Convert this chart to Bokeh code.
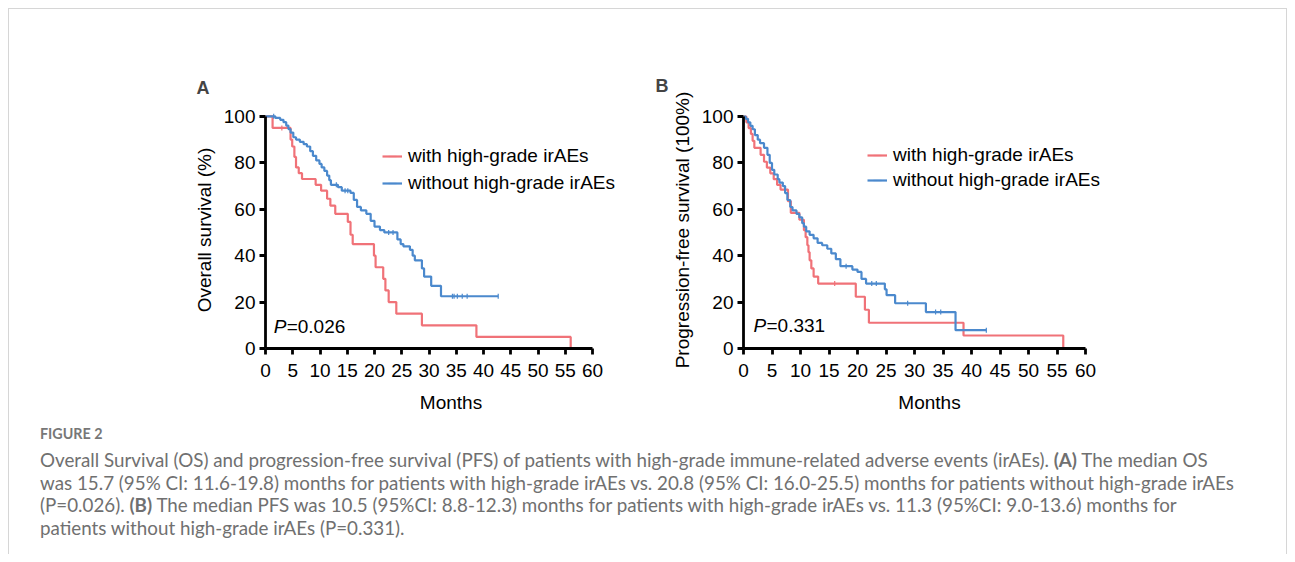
import math
from bokeh.plotting import figure
from bokeh.models import Legend, LegendItem, Div
from bokeh.layouts import row, column
from bokeh.core.properties import value
from bokeh.embed import file_html
from bokeh.resources import INLINE

# ---------------- data ----------------
x_ticks = [0, 5, 10, 15, 20, 25, 30, 35, 40, 45, 50, 55, 60]
y_ticks = [0, 20, 40, 60, 80, 100]

label_with = "with high-grade irAEs"
label_without = "without high-grade irAEs"

# Panel A: overall survival
os_with_t = [0, 1.3, 4.6, 4.9, 5.3, 5.6, 6.1, 6.7, 9.2, 10.2, 11.3, 11.9, 12.8, 15.1, 15.6,
             16.0, 19.9, 20.2, 21.6, 22.0, 22.6, 24.0, 28.7, 38.7, 56.0]
os_with_s = [100, 95, 90, 87, 82.5, 78, 75.5, 73, 70.5, 68, 64.5, 61.5, 58, 54.5, 49,
             45, 40, 35, 30, 25, 20, 15, 10, 5, 0]
os_with_cens_t = [3.0]
os_with_cens_s = [95]

os_without_t = [0, 1.8, 2.7, 3.3, 3.8, 4.2, 4.6, 5.1, 5.6, 6.3, 7.0, 7.6, 8.2, 8.7, 9.3, 9.9,
                10.3, 10.8, 11.3, 11.7, 12.0, 13.3, 14.0, 15.6, 16.2, 16.8, 17.5, 18.5, 19.3,
                20.0, 21.0, 21.8, 24.2, 24.8, 25.3, 26.5, 27.0, 27.4, 28.7, 29.1, 30.4, 32.2, 42.7]
os_without_s = [100, 99.3, 98.5, 97.5, 96, 94.5, 93, 91, 90, 89, 88, 87, 85, 83, 81, 79.5,
                78, 76.5, 74.5, 72.5, 70.5, 69.5, 68, 67, 64, 61, 59.5, 58, 55,
                52.5, 51, 50, 47, 45, 44, 42.5, 40, 38, 34.5, 31, 27, 22.5, 22.5]
os_without_cens_t = [1.5, 13.0, 14.6, 15.1, 22.6, 23.4, 34.3, 34.6, 35.2, 36.1, 37.0, 42.7]
os_without_cens_s = [100, 70.5, 68, 68, 50, 50, 22.5, 22.5, 22.5, 22.5, 22.5, 22.5]

# Panel B: progression-free survival
pfs_with_t = [0, 0.5, 0.9, 1.3, 1.6, 1.9, 3.0, 3.6, 4.1, 4.7, 5.3, 5.9, 6.5, 7.8, 8.3, 9.8,
              10.6, 10.9, 11.2, 11.4, 11.6, 11.9, 12.3, 13.1, 19.7, 21.3, 22.0, 38.6, 56.1]
pfs_with_s = [100, 97.5, 95, 92.5, 89.5, 86.5, 83.5, 80.5, 78, 75.5, 73, 70.5, 68.5, 63.5, 58.5, 55.5,
              51, 48, 44.5, 41.5, 38, 34.5, 31, 28, 22.3, 16.7, 11.1, 5.6, 0]
pfs_with_cens_t = [16.0]
pfs_with_cens_s = [28]

pfs_without_t = [0, 0.4, 0.8, 1.2, 1.6, 2.0, 2.5, 2.9, 3.6, 4.2, 4.6, 5.0, 5.4, 6.0, 6.3, 6.9,
                 7.3, 7.7, 8.2, 8.6, 9.3, 9.8, 10.3, 10.6, 11.0, 11.6, 12.3, 13.0, 13.8, 14.7,
                 15.4, 16.2, 17.0, 19.1, 20.0, 20.7, 21.5, 24.8, 25.1, 26.6, 32.0, 37.2, 42.6]
pfs_without_s = [100, 99, 97.5, 96, 94.5, 92, 90, 88.5, 86.5, 83.5, 80, 77, 75, 73, 71.5, 70,
                 67, 64, 61, 59.5, 58, 56.5, 54, 52.5, 50.5, 49, 47.5, 45.5, 44.5, 43,
                 41, 38.5, 35.5, 34, 33, 30, 28, 25.5, 23, 19.5, 15.7, 7.9, 7.9]
pfs_without_cens_t = [18.0, 22.5, 23.3, 28.8, 33.7, 34.6, 42.6]
pfs_without_cens_s = [35.5, 28, 28, 19.5, 15.7, 15.7, 7.9]

p_value_A = ("P", "=0.026", 1.5, 9.6)
p_value_B = ("P", "=0.331", 1.75, 10.0)

caption_title = "FIGURE 2"
caption_lines = [
    "Overall Survival (OS) and progression-free survival (PFS) of patients with high-grade immune-related adverse events (irAEs). <b>(A)</b> The median OS",
    "was 15.7 (95% CI: 11.6-19.8) months for patients with high-grade irAEs vs. 20.8 (95% CI: 16.0-25.5) months for patients without high-grade irAEs",
    "(P=0.026). <b>(B)</b> The median PFS was 10.5 (95%CI: 8.8-12.3) months for patients with high-grade irAEs vs. 11.3 (95%CI: 9.0-13.6) months for",
    "patients without high-grade irAEs (P=0.331).",
]

RED = "#F07278"
BLUE = "#4B89CD"
FONT = "Liberation Sans"


def km_panel(letter, ylabel, width, height, left, right, top, bottom, x_end, y_end,
             with_t, with_s, with_ct, with_cs, wo_t, wo_s, wo_ct, wo_cs,
             pval, legend_loc, legend_spacing, title_offset, title_standoff):
    p = figure(width=width, height=height, x_range=(0, x_end), y_range=(0, y_end),
               min_border_left=left, min_border_right=right,
               min_border_top=top, min_border_bottom=bottom,
               toolbar_location=None, output_backend="svg", title=letter)
    p.title.text_font = FONT
    p.title.text_font_size = "18px"
    p.title.text_font_style = "bold"
    p.title.align = "left"
    p.title.offset = title_offset
    p.title.standoff = title_standoff
    p.outline_line_color = None
    p.grid.visible = False
    p.background_fill_color = "white"
    p.border_fill_color = "white"

    for ax in (p.xaxis[0], p.yaxis[0]):
        ax.axis_line_width = 2.8
        ax.axis_line_color = "black"
        ax.major_tick_line_width = 2.8
        ax.major_tick_line_color = "black"
        ax.major_tick_out = 6
        ax.major_tick_in = 0
        ax.minor_tick_line_color = None
        ax.major_label_text_font = FONT
        ax.major_label_text_font_size = "19px"
        ax.major_label_text_color = "black"
        ax.axis_label_text_font = FONT
        ax.axis_label_text_font_size = "19px"
        ax.axis_label_text_font_style = "normal"
        ax.axis_label_text_color = "black"
    p.xaxis.ticker = x_ticks
    p.yaxis.ticker = y_ticks
    p.xaxis.bounds = (0, 60)
    p.yaxis.bounds = (0, 100)
    p.xaxis.axis_label = "Months"
    p.yaxis.axis_label = ylabel
    p.xaxis.major_label_standoff = 9
    p.xaxis.axis_label_standoff = 12
    p.yaxis.major_label_standoff = 4
    p.yaxis.axis_label_standoff = 6

    r1 = p.step(with_t, with_s, mode="after", line_color=RED, line_width=2.2)
    c1 = p.scatter(with_ct, with_cs, marker="dash", angle=math.pi / 2, size=5,
                   line_color=RED, line_width=1.2)
    r2 = p.step(wo_t, wo_s, mode="after", line_color=BLUE, line_width=2.2)
    c2 = p.scatter(wo_ct, wo_cs, marker="dash", angle=math.pi / 2, size=5,
                   line_color=BLUE, line_width=1.2)

    p.text(x=[pval[2]], y=[pval[3]], text=[pval[0]], text_font=value(FONT),
           text_font_size="19px", text_font_style="italic", text_baseline="middle",
           text_color="black")
    p.text(x=[pval[2]], y=[pval[3]], text=[pval[1]], text_font=value(FONT),
           text_font_size="19px", text_baseline="middle", text_color="black",
           x_offset=13)

    legend = Legend(items=[LegendItem(label=label_with, renderers=[r1, c1]),
                           LegendItem(label=label_without, renderers=[r2, c2])],
                    location=legend_loc, border_line_color=None,
                    background_fill_alpha=0, padding=0, margin=0,
                    spacing=legend_spacing, glyph_width=20, glyph_height=20,
                    label_standoff=6, label_text_font=FONT,
                    label_text_font_size="19px", label_text_color="black")
    p.add_layout(legend)
    return p


# Panel A frame: 60 months = 327 px, 100 % = 240 px
pA = km_panel("A", "Overall survival (%)", 631, 410, 256, 4, 94, 71,
              60 * 371 / 327, 100 * 245 / 240,
              os_with_t, os_with_s, os_with_cens_t, os_with_cens_s,
              os_without_t, os_without_s, os_without_cens_t, os_without_cens_s,
              p_value_A, (117, 154), 5, -69, 27)
# Panel B frame: 60 months = 342 px, 100 % = 232 px
pB = km_panel("B", "Progression-free survival (100%)", 646, 410, 103, 171, 102, 71,
              60 * 372 / 342, 100 * 237 / 232,
              pfs_with_t, pfs_with_s, pfs_with_cens_t, pfs_with_cens_s,
              pfs_without_t, pfs_without_s, pfs_without_cens_t, pfs_without_cens_s,
              p_value_B, (124, 157), 3, -88, 31)

caption_html = (
    '<div style="font-family: Lato, sans-serif; color:#707070; padding-left:31px; padding-top:4px;">'
    '<div style="font-size:14.3px; font-weight:700; line-height:22px; color:#777777;">'
    + caption_title + '</div>'
    '<div style="font-size:18.8px; line-height:22.5px; margin-top:4px; white-space:nowrap;">'
    + "<br>".join(caption_lines) + '</div></div>'
)
cap = Div(text=caption_html, width=1277, height=135, margin=0)

layout = column(row(pA, pB), cap, margin=(8, 0, 0, 8),
                styles={"border-top": "1px solid #d6d6d6",
                        "border-left": "1px solid #d6d6d6",
                        "border-right": "1px solid #d6d6d6",
                        "background-color": "white"})

open("out.html", "w").write(file_html(layout, INLINE))
